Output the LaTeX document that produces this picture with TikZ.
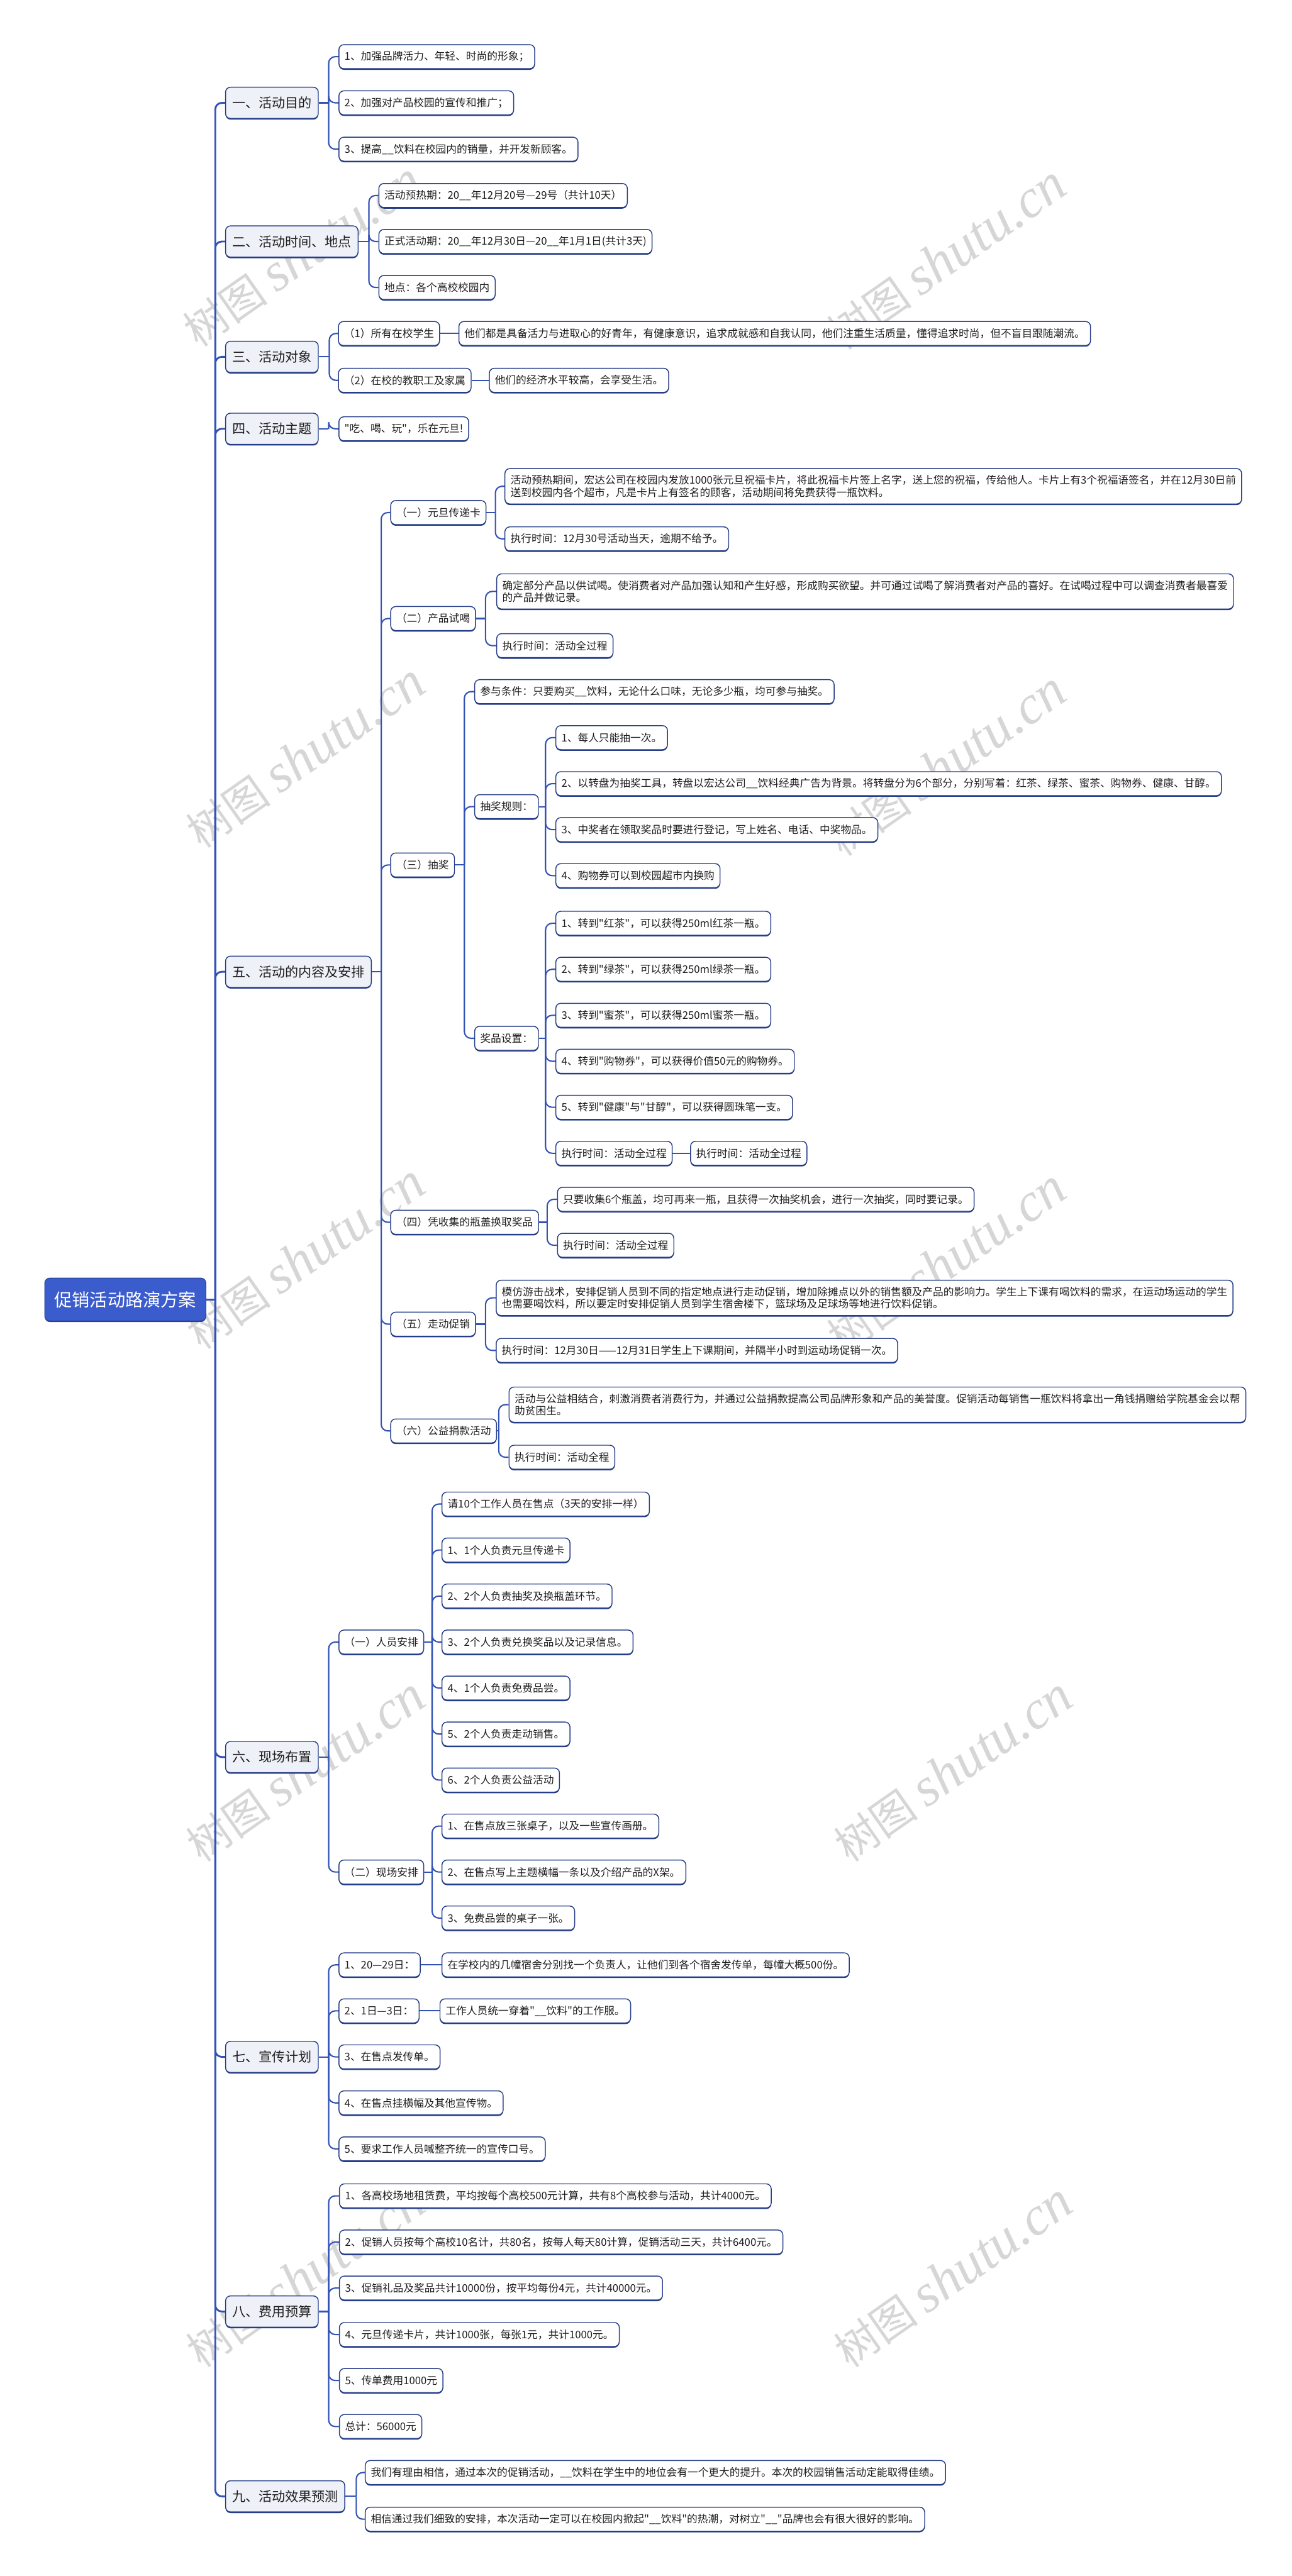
\documentclass[tikz,border=0pt]{standalone}
\usepackage{fontspec}
\setmainfont{Noto Sans CJK SC}[Ligatures=TeXOff]
\newfontfamily\wmlatin{Liberation Serif}
\usetikzlibrary{shadows}
\definecolor{linec}{RGB}{50,82,180}
\definecolor{bordc}{RGB}{38,62,135}
\definecolor{secfill}{RGB}{238,241,247}
\definecolor{rootfill}{RGB}{59,92,204}
\definecolor{txtc}{RGB}{30,30,30}
\definecolor{wmc}{RGB}{214,214,214}
\tikzset{
  base/.style={draw=bordc, line width=0.55pt, rounded corners=3pt, text=txtc, anchor=west,
    drop shadow={shadow xshift=0pt, shadow yshift=-0.7pt, fill=bordc, opacity=1}},
  leaf/.style={base, fill=white, inner xsep=3.4pt, inner ysep=4pt, minimum height=14.6pt, align=left, font=\fontsize{6.4}{7.4}\selectfont},
  sec/.style={base, fill=secfill, inner xsep=4pt, inner ysep=3pt, minimum height=19pt, font=\fontsize{8.07}{9.5}\selectfont},
  rootn/.style={base, fill=rootfill, draw=rootfill!80!black, text=white, inner xsep=5.8pt, minimum height=26pt, font=\fontsize{10.8}{12}\selectfont},
  conn/.style={draw=linec, line width=0.8pt, rounded corners=4pt},
  mainconn/.style={conn, line width=1.1pt},
  wm/.style={text=wmc, rotate=35, font=\fontsize{26}{26}\selectfont},
}
\newcommand\fork[3]{%
  \coordinate (tk) at (#2,0);
  \draw[conn] (#1.east) -- (#1.east -| tk);
  \foreach \kid in {#3}{\draw[conn] (#1.east -| tk) |- (\kid.west);}%
}
\begin{document}
\begin{tikzpicture}[x=1pt,y=-1pt]
\fill[white] (0,0) rectangle (786,1568);
\useasboundingbox (0,0) rectangle (786,1568);
% watermarks
\foreach \wx/\wy [count=\wi] in {184/155,576/157,186/460,576/465,186/765,576/768,186/1077,580/1077,186/1385,580/1385}{
  \node[wm] (wm\wi) at (\wx,\wy) {树图 {\wmlatin\itshape\fontsize{33}{33}\selectfont shutu.cn}};
}
% root and sections
\node[rootn] (root) at (27,791) {促销活动路演方案};
\node[sec] (s1) at (137,62.6) {一、活动目的};
\node[sec] (s2) at (137,147) {二、活动时间、地点};
\node[sec] (s3) at (137,217.2) {三、活动对象};
\node[sec] (s4) at (137,261) {四、活动主题};
\node[sec] (s5) at (137,591.5) {五、活动的内容及安排};
\node[sec] (s6) at (137,1069.5) {六、现场布置};
\node[sec] (s7) at (137,1252) {七、宣传计划};
\node[sec] (s8) at (137,1407) {八、费用预算};
\node[sec] (s9) at (137,1519.5) {九、活动效果预测};
% section 1
\node[leaf] (a1) at (206,34.5) {1、加强品牌活力、年轻、时尚的形象；};
\node[leaf] (a2) at (206,62.6) {2、加强对产品校园的宣传和推广；};
\node[leaf] (a3) at (206,90.8) {3、提高\_\_饮料在校园内的销量，并开发新顾客。};
% section 2
\node[leaf] (b1) at (230.3,119) {活动预热期：20\_\_年12月20号—29号（共计10天）};
\node[leaf] (b2) at (230.3,147) {正式活动期：20\_\_年12月30日—20\_\_年1月1日(共计3天)};
\node[leaf] (b3) at (230.3,175) {地点：各个高校校园内};
% section 3
\node[leaf] (c1) at (205.7,203) {（1）所有在校学生};
\node[leaf] (c2) at (205.7,231.5) {（2）在校的教职工及家属};
\node[leaf] (c1x) at (279,203) {他们都是具备活力与进取心的好青年，有健康意识，追求成就感和自我认同，他们注重生活质量，懂得追求时尚，但不盲目跟随潮流。};
\node[leaf] (c2x) at (297.5,231.5) {他们的经济水平较高，会享受生活。};
% section 4
\node[leaf] (d1) at (206,261) {"吃、喝、玩"，乐在元旦!};
% section 5
\node[leaf] (e1) at (237.5,312) {（一）元旦传递卡};
\node[leaf] (e2) at (237.5,376.5) {（二）产品试喝};
\node[leaf] (e3) at (237.5,526.5) {（三）抽奖};
\node[leaf] (e4) at (237.5,744) {（四）凭收集的瓶盖换取奖品};
\node[leaf] (e5) at (237.5,806) {（五）走动促销};
\node[leaf] (e6) at (237.5,871) {（六）公益捐款活动};
\node[leaf] (e11) at (307,296) {活动预热期间，宏达公司在校园内发放1000张元旦祝福卡片，将此祝福卡片签上名字，送上您的祝福，传给他人。卡片上有3个祝福语签名，并在12月30日前\\送到校园内各个超市，凡是卡片上有签名的顾客，活动期间将免费获得一瓶饮料。};
\node[leaf] (e12) at (307,328) {执行时间：12月30号活动当天，逾期不给予。};
\node[leaf] (e21) at (302,360) {确定部分产品以供试喝。使消费者对产品加强认知和产生好感，形成购买欲望。并可通过试喝了解消费者对产品的喜好。在试喝过程中可以调查消费者最喜爱\\的产品并做记录。};
\node[leaf] (e22) at (302,393) {执行时间：活动全过程};
\node[leaf] (e31) at (288.6,421) {参与条件：只要购买\_\_饮料，无论什么口味，无论多少瓶，均可参与抽奖。};
\node[leaf] (e32) at (288.6,491) {抽奖规则：};
\node[leaf] (e33) at (288.6,632) {奖品设置：};
\node[leaf] (f1) at (338,449) {1、每人只能抽一次。};
\node[leaf] (f2) at (338,477) {2、以转盘为抽奖工具，转盘以宏达公司\_\_饮料经典广告为背景。将转盘分为6个部分，分别写着：红茶、绿茶、蜜茶、购物券、健康、甘醇。};
\node[leaf] (f3) at (338,505) {3、中奖者在领取奖品时要进行登记，写上姓名、电话、中奖物品。};
\node[leaf] (f4) at (338,533) {4、购物券可以到校园超市内换购};
\node[leaf] (g1) at (338,562) {1、转到"红茶"，可以获得250ml红茶一瓶。};
\node[leaf] (g2) at (338,590) {2、转到"绿茶"，可以获得250ml绿茶一瓶。};
\node[leaf] (g3) at (338,618) {3、转到"蜜茶"，可以获得250ml蜜茶一瓶。};
\node[leaf] (g4) at (338,646) {4、转到"购物券"，可以获得价值50元的购物券。};
\node[leaf] (g5) at (338,674) {5、转到"健康"与"甘醇"，可以获得圆珠笔一支。};
\node[leaf] (g6) at (338,702) {执行时间：活动全过程};
\node[leaf] (g6x) at (420,702) {执行时间：活动全过程};
\node[leaf] (e41) at (339,730) {只要收集6个瓶盖，均可再来一瓶，且获得一次抽奖机会，进行一次抽奖，同时要记录。};
\node[leaf] (e42) at (339,758) {执行时间：活动全过程};
\node[leaf] (e51) at (301.7,790) {模仿游击战术，安排促销人员到不同的指定地点进行走动促销，增加除摊点以外的销售额及产品的影响力。学生上下课有喝饮料的需求，在运动场运动的学生\\也需要喝饮料，所以要定时安排促销人员到学生宿舍楼下，篮球场及足球场等地进行饮料促销。};
\node[leaf] (e52) at (301.7,822) {执行时间：12月30日——12月31日学生上下课期间，并隔半小时到运动场促销一次。};
\node[leaf] (e61) at (309.5,855) {活动与公益相结合，刺激消费者消费行为，并通过公益捐款提高公司品牌形象和产品的美誉度。促销活动每销售一瓶饮料将拿出一角钱捐赠给学院基金会以帮\\助贫困生。};
\node[leaf] (e62) at (309.5,887) {执行时间：活动全程};
% section 6
\node[leaf] (h1) at (206,999.5) {（一）人员安排};
\node[leaf] (h2) at (206,1139.5) {（二）现场安排};
\node[leaf] (h11) at (268.7,915.5) {请10个工作人员在售点（3天的安排一样）};
\node[leaf] (h12) at (268.7,943.5) {1、1个人负责元旦传递卡};
\node[leaf] (h13) at (268.7,971.5) {2、2个人负责抽奖及换瓶盖环节。};
\node[leaf] (h14) at (268.7,999.5) {3、2个人负责兑换奖品以及记录信息。};
\node[leaf] (h15) at (268.7,1027.5) {4、1个人负责免费品尝。};
\node[leaf] (h16) at (268.7,1055.5) {5、2个人负责走动销售。};
\node[leaf] (h17) at (268.7,1083.5) {6、2个人负责公益活动};
\node[leaf] (h21) at (268.7,1111.5) {1、在售点放三张桌子，以及一些宣传画册。};
\node[leaf] (h22) at (268.7,1139.5) {2、在售点写上主题横幅一条以及介绍产品的X架。};
\node[leaf] (h23) at (268.7,1167.5) {3、免费品尝的桌子一张。};
% section 7
\node[leaf] (i1) at (206,1196) {1、20—29日：};
\node[leaf] (i2) at (206,1224) {2、1日—3日：};
\node[leaf] (i3) at (206,1252) {3、在售点发传单。};
\node[leaf] (i4) at (206,1280) {4、在售点挂横幅及其他宣传物。};
\node[leaf] (i5) at (206,1308) {5、要求工作人员喊整齐统一的宣传口号。};
\node[leaf] (i1x) at (268.7,1196) {在学校内的几幢宿舍分别找一个负责人，让他们到各个宿舍发传单，每幢大概500份。};
\node[leaf] (i2x) at (267.5,1224) {工作人员统一穿着"\_\_饮料"的工作服。};
% section 8
\node[leaf] (j1) at (206.3,1336.6) {1、各高校场地租赁费，平均按每个高校500元计算，共有8个高校参与活动，共计4000元。};
\node[leaf] (j2) at (206.3,1364.7) {2、促销人员按每个高校10名计，共80名，按每人每天80计算，促销活动三天，共计6400元。};
\node[leaf] (j3) at (206.3,1392.7) {3、促销礼品及奖品共计10000份，按平均每份4元，共计40000元。};
\node[leaf] (j4) at (206.3,1421) {4、元旦传递卡片，共计1000张，每张1元，共计1000元。};
\node[leaf] (j5) at (206.3,1449) {5、传单费用1000元};
\node[leaf] (j6) at (206.3,1477) {总计：56000元};
% section 9
\node[leaf] (k1) at (222,1505) {我们有理由相信，通过本次的促销活动，\_\_饮料在学生中的地位会有一个更大的提升。本次的校园销售活动定能取得佳绩。};
\node[leaf] (k2) at (222,1533.4) {相信通过我们细致的安排，本次活动一定可以在校园内掀起"\_\_饮料"的热潮，对树立"\_\_"品牌也会有很大很好的影响。};
% connectors
\coordinate (tm) at (131,0);
\draw[mainconn] (root.east) -- (root.east -| tm);
\foreach \sec in {s1,s2,s3,s4,s5,s6,s7,s8,s9}{\draw[mainconn] (root.east -| tm) |- (\sec.west);}
\fork{s1}{200}{a1,a2,a3}
\fork{s2}{224.5}{b1,b2,b3}
\fork{s3}{200.4}{c1,c2}
\draw[conn] (c1.east) -- (c1x.west);
\draw[conn] (c2.east) -- (c2x.west);
\fork{s4}{200}{d1}
\fork{s5}{232}{e1,e2,e3,e4,e5,e6}
\fork{e1}{301.5}{e11,e12}
\fork{e2}{295.5}{e21,e22}
\fork{e3}{282.6}{e31,e32,e33}
\fork{e32}{332}{f1,f2,f3,f4}
\fork{e33}{332}{g1,g2,g3,g4,g5,g6}
\draw[conn] (g6.east) -- (g6x.west);
\fork{e4}{333}{e41,e42}
\fork{e5}{295.5}{e51,e52}
\fork{e6}{303.5}{e61,e62}
\fork{s6}{200}{h1,h2}
\fork{h1}{263}{h11,h12,h13,h14,h15,h16,h17}
\fork{h2}{263}{h21,h22,h23}
\fork{s7}{200}{i1,i2,i3,i4,i5}
\draw[conn] (i1.east) -- (i1x.west);
\draw[conn] (i2.east) -- (i2x.west);
\fork{s8}{200}{j1,j2,j3,j4,j5,j6}
\fork{s9}{216.8}{k1,k2}
\end{tikzpicture}
\end{document}
